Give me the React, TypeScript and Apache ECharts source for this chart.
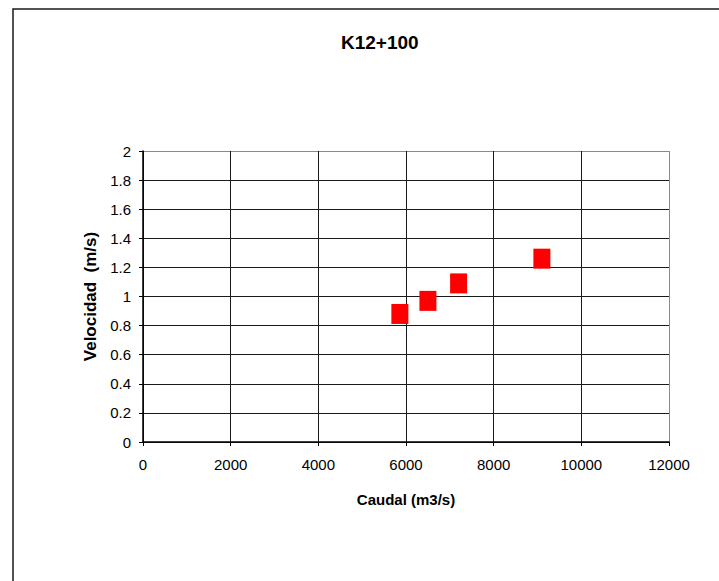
import React, { useEffect, useRef } from "react";
import * as echarts from "echarts";

const titleText = "K12+100";
const xAxisName = "Caudal (m3/s)";
const yAxisName = "Velocidad  (m/s)";
const caudal = [5860, 6500, 7200, 9100];
const velocidad = [0.88, 0.97, 1.09, 1.26];
const xMin = 0;
const xMax = 12000;
const xStep = 2000;
const yMin = 0;
const yMax = 2;
const yStep = 0.2;

export default function App() {
  const ref = useRef<HTMLDivElement>(null);
  useEffect(() => {
    if (!ref.current) return;
    const chart = echarts.init(ref.current, null, { renderer: "svg" });
    const font = "'Liberation Sans', Arial, sans-serif";
    const xLines = Math.round((xMax - xMin) / xStep) + 1;
    const yLines = Math.round((yMax - yMin) / yStep) + 1;
    const xColors = Array.from({ length: xLines }, (_, i) => (i === xLines - 1 ? "#8a8a8a" : "#1a1a1a"));
    const yColors = Array.from({ length: yLines }, (_, i) => (i === yLines - 1 ? "#8a8a8a" : "#1a1a1a"));
    chart.setOption({
      animation: false,
      backgroundColor: "#ffffff",
      textStyle: { fontFamily: font },
      title: {
        text: titleText,
        left: 336,
        top: 28,
        textStyle: { fontSize: 19, fontWeight: "bold", color: "#000", fontFamily: font },
      },
      graphic: [
        {
          type: "rect",
          shape: { x: 13, y: 9, width: 760, height: 640 },
          style: { fill: "none", stroke: "#1a1a1a", lineWidth: 1.5 },
          silent: true,
        },
      ],
      grid: { left: 143, top: 151, width: 526, height: 291, containLabel: false },
      xAxis: {
        type: "value",
        min: xMin,
        max: xMax,
        interval: xStep,
        name: xAxisName,
        nameLocation: "middle",
        nameGap: 50,
        nameTextStyle: { fontSize: 15, fontWeight: "bold", color: "#000", fontFamily: font },
        axisLine: { show: true, onZero: false, lineStyle: { color: "#000", width: 1.5 } },
        axisTick: { show: true, inside: false, length: 4, lineStyle: { color: "#000" } },
        axisLabel: {
          fontSize: 15,
          color: "#000",
          margin: 15,
          fontFamily: font,
          formatter: (v: number) => String(v),
        },
        splitLine: { show: true, lineStyle: { color: xColors, width: 1 } },
      },
      yAxis: {
        type: "value",
        min: yMin,
        max: yMax,
        interval: yStep,
        name: yAxisName,
        nameLocation: "middle",
        nameGap: 44,
        nameTextStyle: { fontSize: 17, fontWeight: "bold", color: "#000", fontFamily: font },
        axisLine: { show: true, onZero: false, lineStyle: { color: "#000", width: 1.5 } },
        axisTick: { show: true, inside: false, length: 4, lineStyle: { color: "#000" } },
        axisLabel: {
          fontSize: 15,
          color: "#000",
          margin: 12,
          fontFamily: font,
          formatter: (v: number) => String(Math.round(v * 10) / 10),
        },
        splitLine: { show: true, lineStyle: { color: yColors, width: 1 } },
      },
      series: [
        {
          type: "scatter",
          data: caudal.map((c, i) => [c, velocidad[i]]),
          symbol: "rect",
          symbolSize: [17, 20],
          itemStyle: { color: "#ff0000", opacity: 1 },
        },
      ],
    });
    return () => chart.dispose();
  }, []);
  return (
    <div
      ref={ref}
      style={{ position: "absolute", left: 0, top: 0, width: 719, height: 581, background: "#fff" }}
    />
  );
}
